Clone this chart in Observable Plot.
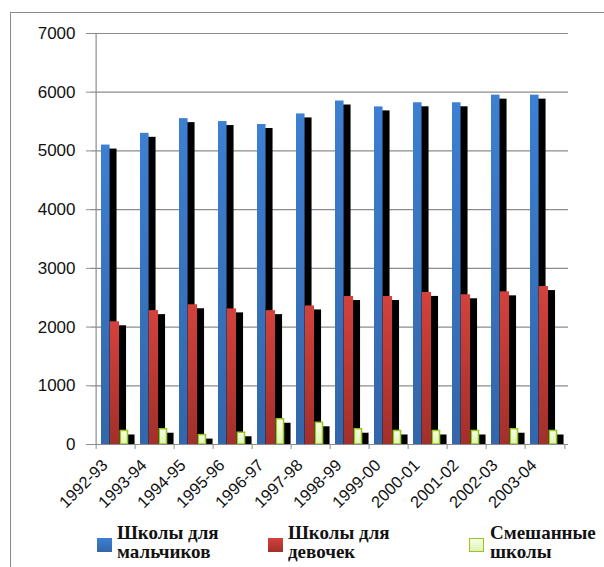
<!DOCTYPE html>
<html>
<head>
<meta charset="utf-8">
<script src="https://cdn.jsdelivr.net/npm/d3@7"></script>
<script src="https://cdn.jsdelivr.net/npm/@observablehq/plot@0.6"></script>
<style>
  html, body { margin: 0; padding: 0; background: #fff; }
  #wrap { position: relative; width: 604px; height: 567px; overflow: hidden; background: #fff; }
  #border { position: absolute; left: 10px; top: 12px; width: 800px; height: 800px; border-left: 1px solid #8a8a8a; border-top: 1px solid #8a8a8a; }
  #chart { position: absolute; left: 0; top: 0; }
  .sw { position: absolute; width: 15px; height: 14px; box-sizing: border-box; }
  .lt { position: absolute; font-family: "Liberation Serif", "Times New Roman", serif; font-weight: bold; font-size: 19px; line-height: 19px; color: #111; white-space: nowrap; }
</style>
</head>
<body>
<div id="wrap">
  <div id="border"></div>
  <div id="chart"></div>
  <div id="legend"></div>
</div>
<script>
// ---- data ----
const years = ["1992-93","1993-94","1994-95","1995-96","1996-97","1997-98","1998-99","1999-00","2000-01","2001-02","2002-03","2003-04"];
const boys  = [5100, 5300, 5550, 5500, 5450, 5630, 5850, 5750, 5820, 5820, 5950, 5950];
const girls = [2090, 2280, 2380, 2310, 2280, 2360, 2520, 2520, 2590, 2550, 2600, 2690];
const mixed = [ 230,  260,  160,  200,  430,  370,  260,  230,  230,  230,  260,  230];
const seriesNames = ["Школы для мальчиков", "Школы для девочек", "Смешанные школы"];
const legendLines = [["Школы для", "мальчиков"], ["Школы для", "девочек"], ["Смешанные", "школы"]];
const yTicks = [0, 1000, 2000, 3000, 4000, 5000, 6000, 7000];

const seriesValues = [boys, girls, mixed];
const rows = seriesValues.map((vals, i) => years.map((y, j) => ({year: y, series: seriesNames[i], value: vals[j]})));

// ---- layout / style ----
const W = 604, H = 505, mL = 91, mR = 36, mT = 33, mB = 61;
const bw = (W - mL - mR) / years.length;
const gray = "#8c8c8c";
const fills = ["url(#gBlue)", "url(#gRed)", "url(#gGreen)"];
const insets = [[5, bw - 14.3], [13.8, bw - 23.8], [24.3, bw - 32.3]];

const marks = [
  Plot.gridY(yTicks, {stroke: gray, strokeOpacity: 1, strokeWidth: 1.2})
];
rows.forEach((data, i) => {
  marks.push(Plot.barY(data, {x: "year", y: "value", fill: "#000", insetLeft: insets[i][0], insetRight: insets[i][1], dx: 7, dy: 4, clip: true}));
  marks.push(Plot.barY(data, {x: "year", y: "value", fill: fills[i],
    insetLeft: insets[i][0], insetRight: insets[i][1],
    stroke: i === 2 ? "#9ac423" : "none", strokeWidth: 1.5}));
});
marks.push(
  Plot.ruleY([0], {stroke: gray, strokeWidth: 1.2}),
  Plot.ruleX([years[0]], {dx: -bw / 2, stroke: gray, strokeWidth: 1.2}),
  Plot.axisY({ticks: yTicks, tickSize: 5, tickPadding: 11, fontSize: 17, stroke: gray, fill: "#111", tickFormat: d => String(d)}),
  Plot.axisX({ticks: years, tickSize: 5, dx: -bw / 2, stroke: gray, tickFormat: () => ""}),
  Plot.axisX({ticks: [years[years.length - 1]], tickSize: 5, dx: bw / 2, stroke: gray, tickFormat: () => ""}),
  Plot.axisX({ticks: years, tickSize: 0, tickPadding: 18, tickRotate: -45, fontSize: 16.5, fill: "#111", dx: -11})
);

const chart = Plot.plot({
  width: W, height: H,
  marginLeft: mL, marginRight: mR, marginTop: mT, marginBottom: mB,
  style: {fontFamily: "'Liberation Sans', Arial, sans-serif", background: "transparent", overflow: "visible"},
  x: {domain: years, padding: 0, label: null, axis: null},
  y: {domain: [0, 7000], label: null, axis: null},
  marks
});

d3.select(chart).insert("defs", ":first-child").html(`
  <linearGradient id="gBlue" x1="0" y1="0" x2="0" y2="1">
    <stop offset="0" stop-color="#3d7fd2"/><stop offset="1" stop-color="#3366aa"/>
  </linearGradient>
  <linearGradient id="gRed" x1="0" y1="0" x2="0" y2="1">
    <stop offset="0" stop-color="#d3423b"/><stop offset="1" stop-color="#a32f2a"/>
  </linearGradient>
  <linearGradient id="gGreen" x1="0" y1="0" x2="0" y2="1">
    <stop offset="0" stop-color="#f7ffe6"/><stop offset="1" stop-color="#def4b4"/>
  </linearGradient>`);
document.getElementById("chart").appendChild(chart);

// ---- legend ----
const legendCss = [
  "linear-gradient(#3d7fd2, #3366aa)",
  "linear-gradient(#d3423b, #a32f2a)",
  "linear-gradient(#f7ffe6, #def4b4)"
];
const swX = [97, 268, 469], txX = [117, 288, 490];
const leg = document.getElementById("legend");
seriesNames.forEach((name, i) => {
  const sw = document.createElement("div");
  sw.className = "sw";
  sw.style.left = swX[i] + "px";
  sw.style.top = "538px";
  sw.style.background = legendCss[i];
  if (i === 2) sw.style.border = "1.5px solid #9ac423";
  sw.title = name;
  leg.appendChild(sw);
  const t = document.createElement("div");
  t.className = "lt";
  t.style.left = txX[i] + "px";
  t.style.top = "523px";
  t.innerHTML = legendLines[i].join("<br>");
  leg.appendChild(t);
});
</script>
</body>
</html>
